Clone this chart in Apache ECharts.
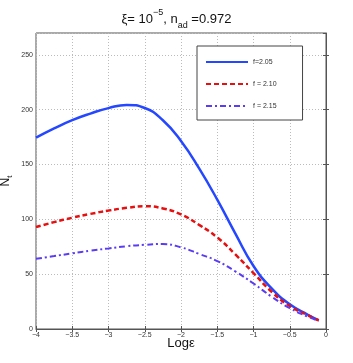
<!DOCTYPE html>
<html>
<head>
<meta charset="utf-8">
<script src="https://cdn.jsdelivr.net/npm/echarts@6/dist/echarts.min.js"></script>
<style>
  html, body { margin: 0; padding: 0; background: #fff; }
  #chart { width: 353px; height: 363px; }
</style>
</head>
<body>
<div id="chart"></div>
<script>
// log(epsilon) sample positions
const logEps = [-4, -3.75, -3.5, -3.25, -3, -2.75, -2.5, -2.25, -2, -1.75, -1.5, -1.25, -1, -0.75, -0.5, -0.25, -0.1];

// N_t for each f
const nF205 = [174.5, 183, 190.5, 196.5, 201.5, 204.4, 201.6, 190.4, 171.5, 146.5, 118, 87, 57.5, 37, 22.5, 13, 8];
const nF210 = [93, 97.5, 101.5, 105, 108, 110.5, 112, 110, 104.5, 95, 83.5, 68, 51, 34, 21, 12.5, 7.8];
const nF215 = [64, 66.5, 69, 71.5, 73.5, 75.5, 76.8, 77.5, 74.5, 68.5, 62, 52.5, 41.5, 29.5, 19, 11.2, 7.3];

const seriesNames = ['f=2.05', 'f = 2.10', 'f = 2.15'];

const pairs = (ys) => logEps.map((x, i) => [x, ys[i]]);
const minus = (v) => String(v).replace('-', '\u2212');

const chart = echarts.init(document.getElementById('chart'));

const tickFont = { fontSize: 7, color: '#333', fontFamily: 'Liberation Sans' };

chart.setOption({
  animation: false,
  title: {
    text: '{a|\u03be= 10}{sup|\u22125}{a|, n}{sub|ad}{a| =0.972}',
    left: 'center',
    top: 3,
    textStyle: {
      fontWeight: 'normal',
      rich: {
        a: { fontSize: 13, fontFamily: 'Liberation Sans', color: '#111', lineHeight: 22 },
        sup: { fontSize: 9, fontFamily: 'Liberation Sans', color: '#111', verticalAlign: 'top', lineHeight: 14 },
        sub: { fontSize: 9, fontFamily: 'Liberation Sans', color: '#111', verticalAlign: 'bottom', lineHeight: 14 }
      }
    }
  },
  grid: {
    left: 36, right: 27, top: 33, bottom: 34,
    outerBoundsMode: 'none',
    containLabel: false,
    show: true, borderColor: '#555', borderWidth: 1
  },
  legend: {
    orient: 'vertical',
    left: 197, top: 46,
    padding: [12, 26, 10, 8],
    itemGap: 14,
    itemWidth: 42,
    itemHeight: 10,
    backgroundColor: '#fff',
    borderColor: '#444',
    borderWidth: 1,
    itemStyle: { opacity: 0 },
    textStyle: { fontSize: 7, color: '#333', fontFamily: 'Liberation Sans' },
    data: seriesNames
  },
  xAxis: [{
    type: 'value',
    min: -4, max: 0, interval: 0.5,
    name: 'Log\u03b5',
    nameLocation: 'middle',
    nameMoveOverlap: false,
    nameGap: 8,
    nameTextStyle: { fontSize: 13, color: '#111', fontFamily: 'Liberation Sans', verticalAlign: 'top' },
    axisLine: { lineStyle: { color: '#555' } },
    axisTick: { inside: true, length: 3, lineStyle: { color: '#555' } },
    axisLabel: Object.assign({ margin: 3, formatter: minus }, tickFont),
    splitLine: { show: true, lineStyle: { color: '#bbb', type: [1, 2] } }
  }, {
    type: 'value', position: 'top',
    min: -4, max: 0, interval: 0.5,
    axisLine: { show: false },
    axisTick: { inside: true, length: 3, lineStyle: { color: '#555' } },
    axisLabel: { show: false },
    splitLine: { show: false }
  }],
  yAxis: [{
    type: 'value',
    min: 0, max: 270, interval: 50,
    name: '{a|N}{sub|t}',
    nameLocation: 'middle',
    nameMoveOverlap: false,
    nameGap: 22,
    nameRotate: 90,
    nameTextStyle: {
      rich: {
        a: { fontSize: 12, color: '#111', fontFamily: 'Liberation Sans', lineHeight: 16 },
        sub: { fontSize: 8, color: '#111', fontFamily: 'Liberation Sans', verticalAlign: 'bottom', lineHeight: 10 }
      }
    },
    axisLine: { show: true, lineStyle: { color: '#555' } },
    axisTick: { show: true, inside: true, length: 3, lineStyle: { color: '#555' } },
    axisLabel: Object.assign({ margin: 3, showMaxLabel: false,
      formatter: (v) => (v % 50 === 0 ? String(v) : '') }, tickFont),
    splitLine: { show: true, lineStyle: { color: '#bbb', type: [1, 2] } }
  }, {
    type: 'value', position: 'right',
    min: 0, max: 270, interval: 50,
    axisLine: { show: false },
    axisTick: { show: true, inside: true, length: 3, lineStyle: { color: '#555' } },
    axisLabel: { show: false },
    splitLine: { show: false }
  }],
  series: [
    {
      name: seriesNames[0], type: 'line', smooth: 0.5, symbol: 'none',
      data: pairs(nF205),
      lineStyle: { color: '#2447ff', width: 2.5 },
      itemStyle: { color: '#2447ff' }
    },
    {
      name: seriesNames[1], type: 'line', smooth: 0.5, symbol: 'none',
      data: pairs(nF210),
      lineStyle: { color: '#e61010', width: 2.5, type: [5, 3] },
      itemStyle: { color: '#e61010' }
    },
    {
      name: seriesNames[2], type: 'line', smooth: 0.5, symbol: 'none',
      data: pairs(nF215),
      lineStyle: { color: '#5a3cf5', width: 2, type: [6, 3, 2, 3] },
      itemStyle: { color: '#5a3cf5' }
    }
  ]
});
</script>
</body>
</html>
